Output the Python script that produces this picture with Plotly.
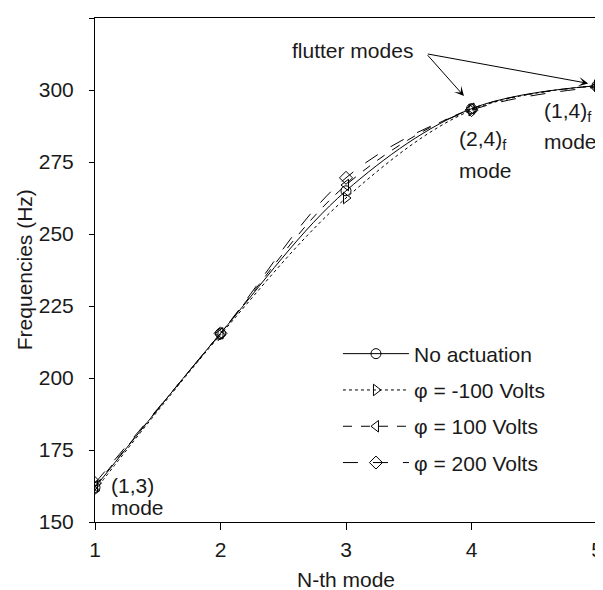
import plotly.graph_objects as go

modes = [1, 2, 3, 4, 5]
no_act = [162.0, 215.5, 265.0, 293.5, 301.5]
m100 = [161.0, 215.0, 262.5, 293.0, 301.5]
p100 = [162.5, 215.5, 267.0, 293.5, 301.5]
p200 = [163.5, 215.5, 269.5, 293.0, 301.0]

names = ["No actuation", "φ = -100 Volts", "φ = 100 Volts", "φ = 200 Volts"]
series = [no_act, m100, p100, p200]
symbols = ["circle-open", "triangle-right-open", "triangle-left-open", "diamond-open"]
dashes = ["solid", "dot", "dash", "longdash"]

FONT = "Liberation Sans, Arial, sans-serif"
TXT = "#1a1a1a"
FS = 21

fig = go.Figure()
for i, (nm, ys, sy, ds) in enumerate(zip(names, series, symbols, dashes)):
    fig.add_trace(go.Scatter(
        x=modes, y=ys, name=nm, mode="lines+markers",
        line=dict(color="black", width=1, dash=ds, shape="spline", smoothing=1),
        marker=dict(symbol=sy, size=10, color="black", line=dict(width=1, color="black")),
        legendgroup="g%d" % i,
    ))

fig.update_layout(
    width=603, height=590,
    margin=dict(l=87, r=14, t=10, b=76),
    paper_bgcolor="white", plot_bgcolor="white",
    font=dict(family=FONT, size=FS, color=TXT),
    showlegend=True,
    legend=dict(x=0.484, y=0.374, xanchor="left", yanchor="top",
                bgcolor="rgba(0,0,0,0)", itemwidth=66, tracegroupgap=6,
                font=dict(size=FS, family=FONT, color=TXT)),
)

fig.update_xaxes(
    range=[1, 5], tickvals=[1, 2, 3, 4, 5], showgrid=False, zeroline=False,
    showline=True, linecolor="black", linewidth=1, mirror=True,
    ticks="outside", ticklen=7, tickcolor="black", ticklabelstandoff=2,
    tickfont=dict(size=FS, family=FONT, color=TXT), automargin=False,
)
fig.update_yaxes(
    range=[150, 325], tickvals=[150, 175, 200, 225, 250, 275, 300, 325],
    showgrid=False, zeroline=False,
    showline=True, linecolor="black", linewidth=1,
    ticks="outside", ticklen=5, tickcolor="black", ticklabelstandoff=11,
    tickfont=dict(size=FS, family=FONT, color=TXT), automargin=False,
)

# axis titles
fig.add_annotation(x=0.5, y=-0.115, xref="paper", yref="paper", text="N-th mode",
                   showarrow=False, xanchor="center", yanchor="middle",
                   font=dict(size=FS, family=FONT, color=TXT))
fig.add_annotation(x=-0.141, y=0.5, xref="paper", yref="paper", text="Frequencies (Hz)",
                   showarrow=False, textangle=-90, xanchor="center", yanchor="middle",
                   font=dict(size=FS, family=FONT, color=TXT))

# right border (grey, thicker)
fig.add_shape(type="line", xref="paper", yref="paper", x0=1, x1=1, y0=0, y1=1,
              line=dict(color="#666666", width=2))

# flutter modes arrows
fig.add_annotation(x=3.05, y=313.6, text="flutter modes", showarrow=False,
                   font=dict(size=FS, family=FONT, color=TXT))
for hx, hy in [(3.94, 297.9), (4.93, 302.3)]:
    fig.add_annotation(x=hx, y=hy, ax=3.64, ay=312.6, axref="x", ayref="y",
                       xref="x", yref="y", text="", showarrow=True,
                       arrowhead=3, arrowsize=1.6, arrowwidth=1, arrowcolor="black")

labels = [
    (1.11, 162.8, "(1,3)"), (1.11, 154.9, "mode"),
    (3.885, 282.6, "(2,4)<sub>f</sub>"), (3.885, 272.2, "mode"),
    (4.56, 292.5, "(1,4)<sub>f</sub>"), (4.56, 282.0, "mode"),
]
for lx, ly, t in labels:
    fig.add_annotation(x=lx, y=ly, text=t, showarrow=False, xanchor="left",
                       yanchor="middle", font=dict(size=FS, family=FONT, color=TXT))

fig.write_html("out.html")
